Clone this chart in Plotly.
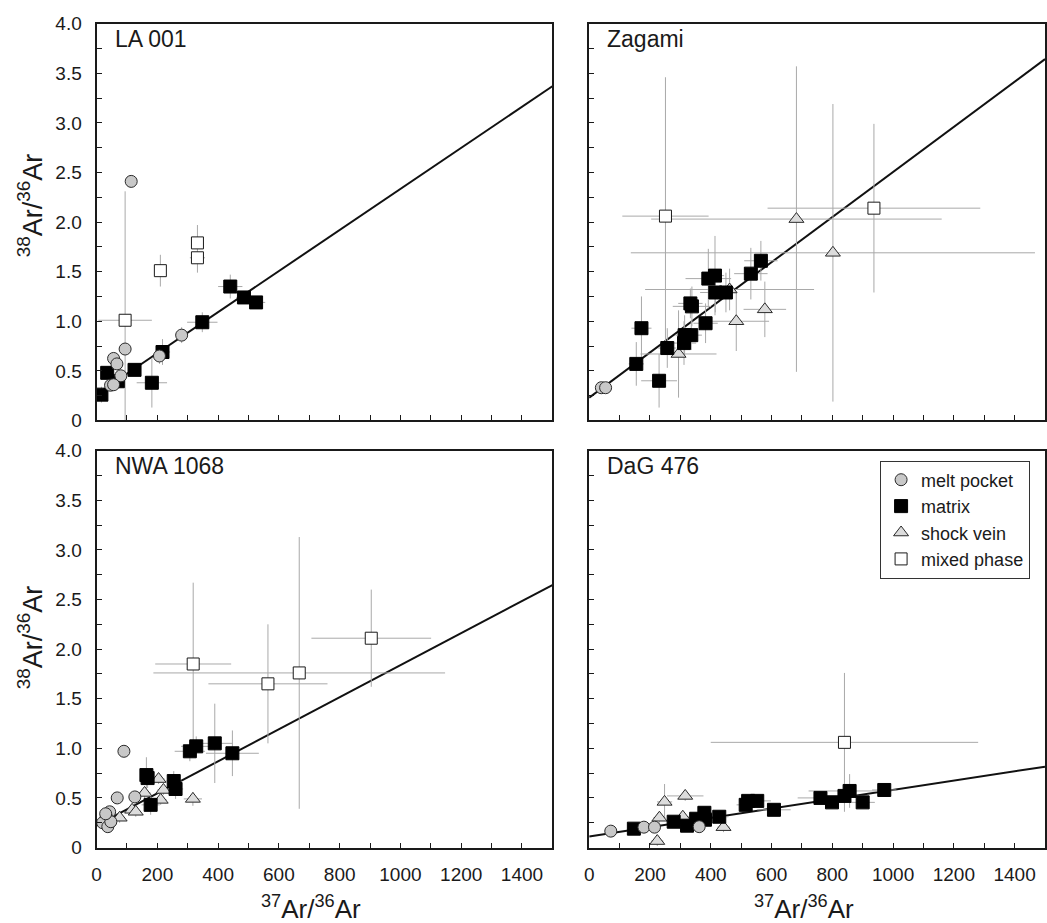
import plotly.graph_objects as go
import numpy as np

FONT = "Liberation Sans, Arial, Helvetica, sans-serif"

# ---------------- data ----------------
panels = ["LA 001", "Zagami", "NWA 1068", "DaG 476"]

# LA 001
la_melt_x = [114, 94, 56, 67, 80, 46, 56, 207, 280]
la_melt_y = [2.41, 0.72, 0.625, 0.57, 0.45, 0.355, 0.36, 0.65, 0.86]
la_melt_xe = [8, 8, 8, 8, 8, 8, 8, 15, 20]
la_melt_ye = [0.04, 0.04, 0.04, 0.04, 0.04, 0.04, 0.04, 0.08, 0.08]
la_mat_x = [16, 35, 70, 125, 182, 217, 348, 440, 485, 525]
la_mat_y = [0.26, 0.48, 0.395, 0.51, 0.38, 0.69, 0.99, 1.35, 1.24, 1.19]
la_mat_xe = [15, 15, 15, 20, 50, 25, 50, 40, 25, 30]
la_mat_ye = [0.08, 0.05, 0.05, 0.05, 0.25, 0.13, 0.1, 0.12, 0.05, 0.05]
la_mix_x = [94, 210, 332, 332]
la_mix_y = [1.01, 1.51, 1.79, 1.64]
la_mix_xe = [88, 10, 10, 25]
la_mix_ye = [1.3, 0.16, 0.18, 0.15]

# Zagami
za_melt_x = [40, 54]
za_melt_y = [0.33, 0.33]
za_melt_xe = [5, 5]
za_melt_ye = [0.02, 0.02]
za_mat_x = [155, 172, 230, 257, 312, 314, 336, 333, 338, 383, 392, 414, 415, 450, 532, 565]
za_mat_y = [0.57, 0.93, 0.40, 0.73, 0.78, 0.86, 0.86, 1.18, 1.15, 0.98, 1.43, 1.46, 1.29, 1.29, 1.48, 1.61]
za_mat_xe = [25, 33, 59, 30, 40, 30, 35, 40, 63, 40, 75, 30, 50, 30, 55, 55]
za_mat_ye = [0.22, 0.32, 0.27, 0.2, 0.22, 0.2, 0.15, 0.15, 0.2, 0.2, 0.3, 0.4, 0.2, 0.2, 0.26, 0.2]
za_sv_x = [294, 462, 484, 578, 682, 802]
za_sv_y = [0.67, 1.32, 1.00, 1.12, 2.03, 1.69]
za_sv_xe = [125, 278, 108, 70, 478, 665]
za_sv_ye = [0.44, 0.21, 0.3, 0.28, 1.54, 1.5]
za_mix_x = [251, 937]
za_mix_y = [2.06, 2.14]
za_mix_xe = [142, 350]
za_mix_ye = [1.4, 0.85]

# NWA 1068
nw_melt_x = [90, 68, 126, 43, 32, 20, 37, 47, 30]
nw_melt_y = [0.97, 0.50, 0.51, 0.36, 0.31, 0.25, 0.21, 0.26, 0.34]
nw_melt_xe = [5, 5, 8, 5, 5, 5, 5, 5, 5]
nw_melt_ye = [0.03, 0.03, 0.03, 0.03, 0.03, 0.03, 0.03, 0.03, 0.03]
nw_mat_x = [164, 168, 178, 254, 260, 307, 328, 389, 447]
nw_mat_y = [0.73, 0.70, 0.43, 0.67, 0.59, 0.97, 1.02, 1.05, 0.95]
nw_mat_xe = [20, 20, 30, 25, 25, 50, 50, 60, 87]
nw_mat_ye = [0.18, 0.1, 0.1, 0.1, 0.1, 0.1, 0.1, 0.4, 0.23]
nw_sv_x = [76, 117, 129, 158, 204, 211, 220, 317]
nw_sv_y = [0.30, 0.38, 0.36, 0.55, 0.69, 0.48, 0.58, 0.49]
nw_sv_xe = [15, 15, 15, 20, 20, 20, 20, 30]
nw_sv_ye = [0.05, 0.05, 0.05, 0.05, 0.05, 0.05, 0.05, 0.07]
nw_mix_x = [318, 564, 667, 904]
nw_mix_y = [1.85, 1.65, 1.76, 2.11]
nw_mix_xe = [125, 196, 480, 197]
nw_mix_ye = [0.82, 0.6, 1.37, 0.49]

# DaG 476
dg_melt_x = [71, 180, 215, 362]
dg_melt_y = [0.165, 0.205, 0.205, 0.21]
dg_melt_xe = [5, 5, 5, 5]
dg_melt_ye = [0.02, 0.02, 0.02, 0.02]
dg_mat_x = [147, 278, 322, 352, 379, 381, 428, 515, 523, 553, 608, 761, 799, 840, 857, 900, 971]
dg_mat_y = [0.19, 0.26, 0.22, 0.29, 0.35, 0.28, 0.31, 0.43, 0.47, 0.47, 0.38, 0.50, 0.455, 0.52, 0.57, 0.455, 0.58]
dg_mat_xe = [20, 25, 25, 25, 25, 25, 30, 30, 30, 45, 55, 75, 40, 60, 135, 40, 40]
dg_mat_ye = [0.03, 0.05, 0.05, 0.05, 0.05, 0.05, 0.05, 0.05, 0.05, 0.05, 0.05, 0.05, 0.05, 0.08, 0.17, 0.05, 0.06]
dg_sv_x = [224, 231, 248, 308, 316, 442]
dg_sv_y = [0.065, 0.30, 0.46, 0.31, 0.52, 0.205]
dg_sv_xe = [20, 20, 25, 20, 60, 20]
dg_sv_ye = [0.05, 0.05, 0.18, 0.05, 0.05, 0.05]
dg_mix_x = [840]
dg_mix_y = [1.06]
dg_mix_xe = [440]
dg_mix_ye = [0.7]

# regression lines (intercept, slope)
fit_intercept = [0.264, 0.23, 0.223, 0.11]
fit_slope = [0.00207, 0.002275, 0.001615, 0.00047]

# axis ticks
x_tickvals = [0, 200, 400, 600, 800, 1000, 1200, 1400]
x_ticktext = ["0", "200", "400", "600", "800", "1000", "1200", "1400"]
x_minor_vals = [100, 300, 500, 700, 900, 1100, 1300, 1500]
y_tickvals = [0, 0.5, 1.0, 1.5, 2.0, 2.5, 3.0, 3.5, 4.0]
y_ticktext = ["0", "0.5", "1.0", "1.5", "2.0", "2.5", "3.0", "3.5", "4.0"]
y_minor_vals = [0.25, 0.75, 1.25, 1.75, 2.25, 2.75, 3.25, 3.75]

panel_data = [
    {"melt pocket": (la_melt_x, la_melt_y, la_melt_xe, la_melt_ye),
     "matrix": (la_mat_x, la_mat_y, la_mat_xe, la_mat_ye),
     "mixed phase": (la_mix_x, la_mix_y, la_mix_xe, la_mix_ye)},
    {"melt pocket": (za_melt_x, za_melt_y, za_melt_xe, za_melt_ye),
     "matrix": (za_mat_x, za_mat_y, za_mat_xe, za_mat_ye),
     "shock vein": (za_sv_x, za_sv_y, za_sv_xe, za_sv_ye),
     "mixed phase": (za_mix_x, za_mix_y, za_mix_xe, za_mix_ye)},
    {"melt pocket": (nw_melt_x, nw_melt_y, nw_melt_xe, nw_melt_ye),
     "matrix": (nw_mat_x, nw_mat_y, nw_mat_xe, nw_mat_ye),
     "shock vein": (nw_sv_x, nw_sv_y, nw_sv_xe, nw_sv_ye),
     "mixed phase": (nw_mix_x, nw_mix_y, nw_mix_xe, nw_mix_ye)},
    {"melt pocket": (dg_melt_x, dg_melt_y, dg_melt_xe, dg_melt_ye),
     "matrix": (dg_mat_x, dg_mat_y, dg_mat_xe, dg_mat_ye),
     "shock vein": (dg_sv_x, dg_sv_y, dg_sv_xe, dg_sv_ye),
     "mixed phase": (dg_mix_x, dg_mix_y, dg_mix_xe, dg_mix_ye)},
]

# ---------------- styles ----------------
W, H = 1047, 923
styles = {
    "melt pocket": dict(symbol="circle", size=12, color="#c8c8c8", line=dict(color="#2a2a2a", width=1)),
    "matrix": dict(symbol="square", size=13, color="#000000", line=dict(color="#000000", width=1)),
    "shock vein": dict(symbol="triangle-up", size=13, color="#dcdcdc", line=dict(color="#2a2a2a", width=1)),
    "mixed phase": dict(symbol="square", size=12, color="#ffffff", line=dict(color="#1a1a1a", width=1)),
}
legend_rank = {"melt pocket": 1, "matrix": 2, "shock vein": 3, "mixed phase": 4}
draw_order = ["mixed phase", "shock vein", "matrix", "melt pocket"]
ERR_COLOR = "#a9a9a9"
INK = "#1a1a1a"
TICKFONT = dict(family=FONT, size=19, color=INK)

xdom = [[92 / W, 550 / W], [587 / W, 1045 / W]]
ydom = [[1 - 420 / H, 1 - 14 / H], [1 - 857 / H, 1 - 451 / H]]

fig = go.Figure()

for i, name in enumerate(panels):
    row, col = i // 2, i % 2
    xa = "x" if i == 0 else f"x{i+1}"
    ya = "y" if i == 0 else f"y{i+1}"
    # regression line
    lx = np.array([0, 1500])
    ly = fit_intercept[i] + fit_slope[i] * lx
    fig.add_trace(go.Scatter(x=lx, y=ly, mode="lines", line=dict(color="#111111", width=2),
                             showlegend=False, hoverinfo="skip", xaxis=xa, yaxis=ya))
    data = panel_data[i]
    # error bars first (under all markers)
    for cat in draw_order:
        if cat not in data:
            continue
        x, y, xe, ye = data[cat]
        fig.add_trace(go.Scatter(
            x=x, y=y, mode="markers", marker=dict(size=1, color="rgba(0,0,0,0)"),
            error_x=dict(type="data", array=xe, visible=True, color=ERR_COLOR, thickness=1, width=0),
            error_y=dict(type="data", array=ye, visible=True, color=ERR_COLOR, thickness=1, width=0),
            showlegend=False, hoverinfo="skip", xaxis=xa, yaxis=ya))
    # markers
    for cat in draw_order:
        if cat not in data:
            continue
        x, y, xe, ye = data[cat]
        st = styles[cat]
        fig.add_trace(go.Scatter(
            x=x, y=y, mode="markers", name=cat,
            marker=dict(symbol=st["symbol"], size=st["size"], color=st["color"], line=st["line"]),
            showlegend=(i == 3), legendgroup=cat, legendrank=legend_rank[cat],
            xaxis=xa, yaxis=ya))

    axis_common = dict(showline=True, linecolor=INK, linewidth=2, mirror=True,
                       showgrid=False, zeroline=False, ticks="inside", ticklen=5, tickwidth=1,
                       tickcolor=INK, showticklabels=False)
    xkey = "xaxis" if i == 0 else f"xaxis{i+1}"
    ykey = "yaxis" if i == 0 else f"yaxis{i+1}"
    fig.update_layout(**{
        xkey: dict(axis_common, domain=xdom[col], anchor=ya, range=[0, 1500],
                   tickmode="array", tickvals=x_tickvals,
                   minor=dict(tickmode="array", tickvals=x_minor_vals, ticks="inside",
                              ticklen=5, tickwidth=1, tickcolor=INK, showgrid=False)),
        ykey: dict(axis_common, domain=ydom[row], anchor=xa, range=[0, 4],
                   tickmode="array", tickvals=y_tickvals,
                   minor=dict(tickmode="array", tickvals=y_minor_vals, ticks="inside",
                              ticklen=5, tickwidth=1, tickcolor=INK, showgrid=False)),
    })
    fig.add_annotation(text=name, xref=f"{xa} domain", yref=f"{ya} domain", x=0.035, y=0.962,
                       xanchor="left", yanchor="middle", showarrow=False,
                       font=dict(family=FONT, size=23, color=INK))

# label-only overlay axes (transparent outside ticks push the labels off the frame)
label_axis = dict(showline=False, showgrid=False, zeroline=False, ticks="outside",
                  tickcolor="rgba(0,0,0,0)", tickfont=TICKFONT)
fig.update_layout(
    xaxis5=dict(label_axis, overlaying="x3", anchor="y3", domain=xdom[0], range=[0, 1500],
                side="bottom", tickmode="array", tickvals=x_tickvals, ticktext=x_ticktext, ticklen=10),
    xaxis6=dict(label_axis, overlaying="x4", anchor="y4", domain=xdom[1], range=[0, 1500],
                side="bottom", tickmode="array", tickvals=x_tickvals, ticktext=x_ticktext, ticklen=10),
    yaxis5=dict(label_axis, overlaying="y", anchor="x", domain=ydom[0], range=[0, 4],
                side="left", tickmode="array", tickvals=y_tickvals, ticktext=y_ticktext, ticklen=10),
    yaxis6=dict(label_axis, overlaying="y3", anchor="x3", domain=ydom[1], range=[0, 4],
                side="left", tickmode="array", tickvals=y_tickvals, ticktext=y_ticktext, ticklen=10),
)
# empty helper traces so the label axes are instantiated
for xa_, ya_ in [("x5", "y3"), ("x6", "y4"), ("x", "y5"), ("x3", "y6")]:
    fig.add_trace(go.Scatter(x=[None], y=[None], mode="markers", showlegend=False,
                             hoverinfo="skip", xaxis=xa_, yaxis=ya_))

ytitle = "<sup>38</sup>Ar/<sup>36</sup>Ar"
xtitle = "<sup>37</sup>Ar/<sup>36</sup>Ar"
for yc in [200, 642]:
    fig.add_annotation(text=ytitle, xref="paper", yref="paper", x=26 / W, y=1 - yc / H,
                       xanchor="center", yanchor="middle", textangle=-90, showarrow=False,
                       font=dict(family=FONT, size=27, color=INK))
for xc in [307, 803]:
    fig.add_annotation(text=xtitle, xref="paper", yref="paper", x=xc / W, y=1 - 918 / H,
                       xanchor="center", yanchor="middle", showarrow=False,
                       font=dict(family=FONT, size=26, color=INK))

fig.update_layout(
    width=W, height=H, margin=dict(l=0, r=0, t=0, b=0),
    paper_bgcolor="white", plot_bgcolor="white",
    font=dict(family=FONT, color=INK),
    legend=dict(x=1030 / W, y=1 - 461 / H, xanchor="right", yanchor="top",
                bgcolor="white", bordercolor="#333333", borderwidth=1,
                font=dict(family=FONT, size=18, color=INK),
                tracegroupgap=0, itemwidth=30),
)

fig.write_html("out.html")
